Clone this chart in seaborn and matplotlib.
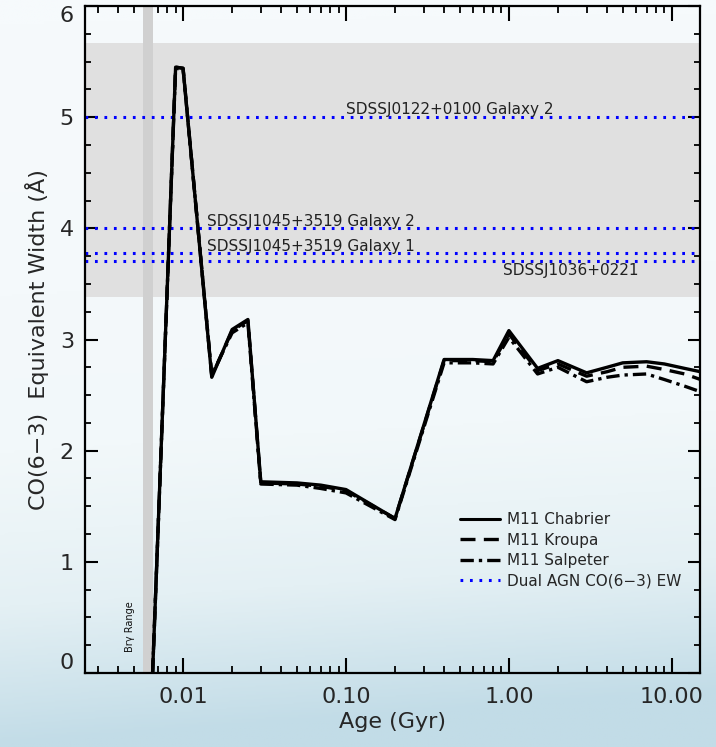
import numpy as np
import pandas as pd
import matplotlib
matplotlib.use("Agg")
import matplotlib.pyplot as plt
import seaborn as sns
from matplotlib.ticker import FixedLocator, MultipleLocator, LogLocator, NullFormatter
from matplotlib.colors import LinearSegmentedColormap
from matplotlib.lines import Line2D

# ---- data ----
ages = [0.0065, 0.009, 0.01, 0.015, 0.02, 0.025, 0.03, 0.05, 0.07, 0.1, 0.2, 0.4,
        0.6, 0.8, 1.0, 1.5, 2.0, 3.0, 4.0, 5.0, 7.0, 9.0, 12.0, 15.0]
chabrier = [0.0, 5.45, 5.44, 2.66, 3.09, 3.18, 1.72, 1.71, 1.69, 1.65, 1.39, 2.82,
            2.82, 2.81, 3.08, 2.74, 2.81, 2.70, 2.75, 2.79, 2.80, 2.78, 2.74, 2.71]
kroupa = [0.0, 5.45, 5.44, 2.67, 3.08, 3.17, 1.71, 1.70, 1.68, 1.64, 1.39, 2.81,
          2.81, 2.80, 3.05, 2.72, 2.78, 2.67, 2.71, 2.75, 2.76, 2.73, 2.69, 2.64]
salpeter = [0.0, 5.44, 5.43, 2.68, 3.06, 3.15, 1.70, 1.69, 1.66, 1.62, 1.38, 2.79,
            2.79, 2.78, 3.02, 2.69, 2.75, 2.62, 2.66, 2.68, 2.69, 2.64, 2.58, 2.53]

agn_ew = [5.0, 4.0, 3.78, 3.71]
agn_labels = ["SDSSJ0122+0100 Galaxy 2", "SDSSJ1045+3519 Galaxy 2",
              "SDSSJ1045+3519 Galaxy 1", "SDSSJ1036+0221"]
agn_label_x = [0.1, 0.014, 0.014, 0.92]
agn_label_y = [5.03, 4.02, 3.80, 3.58]

ew_range = (3.38, 5.67)
bry_range = (0.0057, 0.0065)

xticks = [0.01, 0.1, 1.0, 10.0]
xticklabels = ["0.01", "0.10", "1.00", "10.00"]
yticks = [0, 1, 2, 3, 4, 5, 6]
yticklabels = ["0", "1", "2", "3", "4", "5", "6"]

df = pd.DataFrame({
    "age": ages * 3,
    "ew": chabrier + kroupa + salpeter,
    "model": ["M11 Chabrier"] * len(ages) + ["M11 Kroupa"] * len(ages) + ["M11 Salpeter"] * len(ages),
})

sns.set_style("ticks")
plt.rcParams['font.family'] = ['DejaVu Sans']

fig = plt.figure(figsize=(7.16, 7.47), dpi=100)

# background gradient
bg = fig.add_axes([0, 0, 1, 1], zorder=0)
bg.axis("off")
cmap = LinearSegmentedColormap.from_list(
    "bgc", [(0.0, "#f6fafc"), (0.45, "#f2f8fa"), (0.72, "#e4f0f4"), (1.0, "#c2dce7")])
yy, xx = np.mgrid[0:1:300j, 0:1:300j]
grad = np.clip(yy ** 1.6 + 0.12 * xx * yy, 0, 1)
bg.imshow(grad, cmap=cmap, aspect="auto", extent=[0, 1, 1, 0], vmin=0, vmax=1)
bg.set_xlim(0, 1)
bg.set_ylim(1, 0)

ax = fig.add_axes([85 / 716, 1 - 673 / 747, 615 / 716, 667 / 747], zorder=1)
ax.set_facecolor("none")

ax.axhspan(ew_range[0], ew_range[1], color="#e0e0e0", zorder=0.5, lw=0)
ax.axvspan(bry_range[0], bry_range[1], color="#d0d0d0", zorder=0.6, lw=0)

for v in agn_ew:
    ax.axhline(v, color="#0000ff", lw=2.2, linestyle=(0, (0.9, 2.2)), zorder=1)
for lx, ly, lt in zip(agn_label_x, agn_label_y, agn_labels):
    ax.text(lx, ly, lt, fontsize=11, color="#222222", ha="left", va="baseline", zorder=3)

styles = {
    "M11 Chabrier": "-",
    "M11 Kroupa": (0, (4.5, 2.5)),
    "M11 Salpeter": (0, (4, 1.5, 1, 1.5)),
}
for name, ls in styles.items():
    sub = df[df["model"] == name]
    sns.lineplot(data=sub, x="age", y="ew", ax=ax, color="black", lw=2.4,
                 linestyle=ls, estimator=None, sort=False, legend=False, zorder=2)

ax.text(0.00473, 0.19, "Brγ Range", rotation=90, fontsize=7, ha="center", va="bottom",
        color="#111111", zorder=3)

ax.set_xscale("log")
ax.set_xlim(0.0025, 14.9)
ax.set_ylim(0, 6)
ax.xaxis.set_major_locator(FixedLocator(xticks))
ax.set_xticklabels(xticklabels)
ax.xaxis.set_minor_locator(LogLocator(base=10, subs=np.arange(2, 10)))
ax.xaxis.set_minor_formatter(NullFormatter())
ax.yaxis.set_major_locator(FixedLocator(yticks))
ax.set_yticklabels(yticklabels)
ax.yaxis.set_minor_locator(MultipleLocator(0.25))

ax.tick_params(axis="both", which="both", direction="in", top=True, right=True, color="black")
ax.tick_params(axis="x", which="major", length=11, width=1.5, labelsize=16, pad=10)
ax.tick_params(axis="x", which="minor", length=5, width=1.3)
ax.tick_params(axis="y", which="major", length=9, width=1.5, labelsize=16, pad=8)
ax.tick_params(axis="y", which="minor", length=4.5, width=1.3)
ylabs = ax.get_yticklabels()
ylabs[0].set_va("bottom")
ylabs[-1].set_va("top")
for s in ax.spines.values():
    s.set_linewidth(1.6)
    s.set_color("black")

ax.set_xlabel("Age (Gyr)", fontsize=16, labelpad=4)
ax.set_ylabel("CO(6−3)  Equivalent Width (Å)", fontsize=16, labelpad=8)

handles = [
    Line2D([], [], color="black", lw=2.2, linestyle=styles["M11 Chabrier"]),
    Line2D([], [], color="black", lw=2.4, linestyle=styles["M11 Kroupa"]),
    Line2D([], [], color="black", lw=2.4, linestyle=styles["M11 Salpeter"]),
    Line2D([], [], color="#0000ff", lw=2.2, linestyle=(0, (0.9, 2.2))),
]
labels = ["M11 Chabrier", "M11 Kroupa", "M11 Salpeter", "Dual AGN CO(6−3) EW"]
ax.legend(handles, labels, loc="upper left", bbox_to_anchor=(0.6, 0.25), frameon=False,
          fontsize=11, handlelength=2.6, handletextpad=0.5, labelspacing=0.35,
          borderaxespad=0)

fig.savefig("out.png", dpi=100)
